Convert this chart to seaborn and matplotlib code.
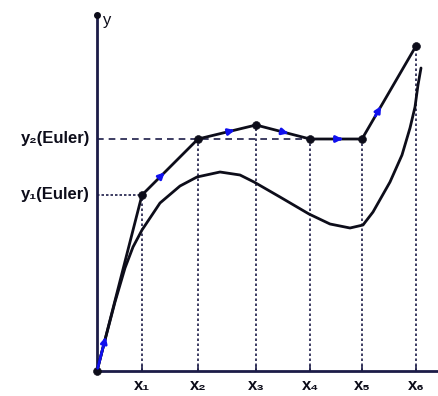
import matplotlib
matplotlib.use("Agg")
import matplotlib.pyplot as plt
import seaborn as sns
import pandas as pd

sns.set_theme(style="white")
plt.rcParams['font.family'] = ['Liberation Sans', 'DejaVu Sans']

# ---- data ----
x_nodes = [0.0, 0.45, 1.01, 1.59, 2.13, 2.65, 3.19]
x_labels = ["x₁", "x₂", "x₃", "x₄", "x₅", "x₆"]
euler_y = [0.0, 1.76, 2.32, 2.46, 2.32, 2.32, 3.25]
curve_x = [0.0, 0.08, 0.18, 0.28, 0.36, 0.45, 0.63, 0.83, 1.00, 1.23, 1.43, 1.57,
           1.83, 2.12, 2.33, 2.53, 2.66, 2.76, 2.93, 3.05, 3.13, 3.18, 3.21, 3.24]
curve_y = [0.0, 0.31, 0.69, 1.03, 1.24, 1.41, 1.68, 1.85, 1.94, 1.99, 1.96, 1.89,
           1.74, 1.57, 1.47, 1.43, 1.46, 1.59, 1.89, 2.16, 2.43, 2.64, 2.86, 3.03]
euler_labels = ["y₁(Euler)", "y₂(Euler)"]
arrow_frac = [0.21, 0.36, 0.6, 0.57, 0.6, 0.3]

ink = "#0d0d1a"
axis_col = "#1c1c48"

fig = plt.figure(figsize=(4.39, 3.96), dpi=100)
ax = fig.add_axes([0, 0, 1, 1])
ax.set_xlim(-0.97, 3.42)
ax.set_ylim(-0.25, 3.71)
ax.axis("off")

# axes
ax.plot([0, 3.42], [0, 0], color=axis_col, lw=2, solid_capstyle="butt")
ax.plot([0, 0], [0, 3.56], color=axis_col, lw=2)
ax.plot([0], [3.56], marker="o", ms=4, color=ink)
ax.text(0.06, 3.50, "y", fontsize=12, color=ink, ha="left", va="center")

# tick marks on x axis
for xv in x_nodes[1:]:
    ax.plot([xv, xv], [0, 0.05], color=axis_col, lw=1.2)

# vertical guide lines
for xv, yv in zip(x_nodes[1:], euler_y[1:]):
    ax.plot([xv, xv], [0, yv], color=axis_col, lw=1.2, ls=(0, (1.5, 1.5)))

# horizontal guides
ax.plot([0, x_nodes[1]], [euler_y[1], euler_y[1]], color=axis_col, lw=1.2, ls=(0, (1.5, 1.2)))
ax.plot([0, x_nodes[5]], [euler_y[2], euler_y[2]], color=axis_col, lw=1.2, ls=(0, (4, 3)))

# true curve
df_curve = pd.DataFrame({"x": curve_x, "y": curve_y})
sns.lineplot(data=df_curve, x="x", y="y", ax=ax, color=ink, lw=2, sort=False, estimator=None)

# Euler polygon
df_e = pd.DataFrame({"x": x_nodes, "y": euler_y})
sns.lineplot(data=df_e, x="x", y="y", ax=ax, color=ink, lw=2, sort=False, estimator=None)
sns.scatterplot(data=df_e, x="x", y="y", ax=ax, color=ink, s=32, edgecolor=ink, zorder=5)

# blue direction arrows
for i, f in enumerate(arrow_frac):
    x0, x1 = x_nodes[i], x_nodes[i + 1]
    y0, y1 = euler_y[i], euler_y[i + 1]
    xa = x0 + (x1 - x0) * (f - 0.08)
    ya = y0 + (y1 - y0) * (f - 0.08)
    xb = x0 + (x1 - x0) * (f + 0.08)
    yb = y0 + (y1 - y0) * (f + 0.08)
    if i == 0:
        xa, ya = x0, y0
        xb = x0 + (x1 - x0) * f
        yb = y0 + (y1 - y0) * f
    ax.annotate("", xy=(xb, yb), xytext=(xa, ya),
                arrowprops=dict(arrowstyle="-|>", color="#1010ee", lw=2,
                                mutation_scale=9), zorder=6)

# labels
for xv, lab in zip(x_nodes[1:], x_labels):
    ax.text(xv, -0.145, lab, fontsize=12, fontweight="bold", color=ink,
            ha="center", va="center")
for yv, lab in zip([euler_y[1], euler_y[2]], euler_labels):
    ax.text(-0.07, yv, lab, fontsize=12, fontweight="bold", color=ink,
            ha="right", va="center")

ax.set_xlabel("")
ax.set_ylabel("")
fig.savefig("out.png", dpi=100)
